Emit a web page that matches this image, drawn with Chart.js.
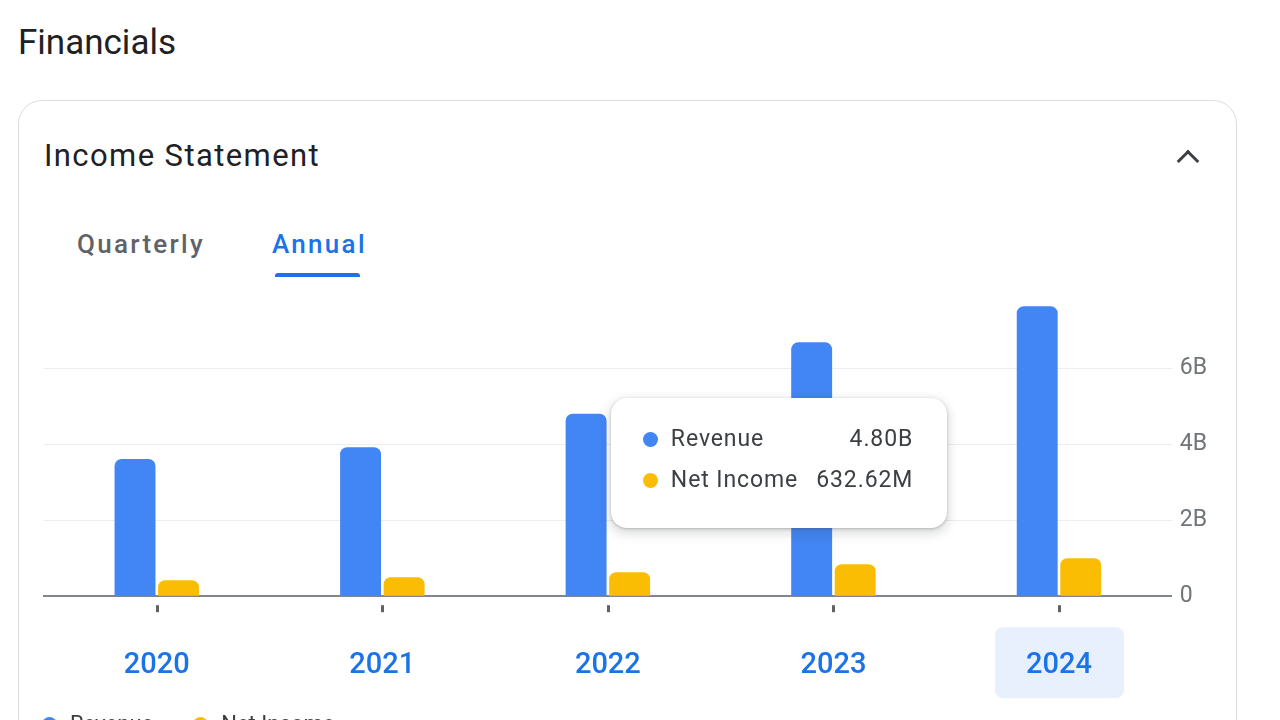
<!DOCTYPE html>
<html>
<head>
<meta charset="utf-8">
<script src="https://cdn.jsdelivr.net/npm/chart.js@4.4.1/dist/chart.umd.min.js"></script>
<style>
  body { margin: 0; width: 1280px; height: 720px; overflow: hidden; background: #fff; font-family: Roboto, "Noto Sans", sans-serif; position: relative; }
  .title { position: absolute; left: 18px; top: 22px; font-size: 35px; color: #202124; }
  .card { position: absolute; left: 18px; top: 100px; width: 1219px; height: 700px; border: 1px solid #dadce0; border-radius: 24px; box-sizing: border-box; }
  .cardTitle { position: absolute; left: 44px; top: 137px; font-size: 31px; letter-spacing: 1.4px; color: #202124; }
  .chev { position: absolute; border-left: 3px solid #3c4043; border-top: 3px solid #3c4043; transform: rotate(45deg); box-sizing: border-box; width: 16px; height: 16px; left: 1180px; top: 153px; }
  .tab { position: absolute; top: 229px; font-size: 26px; font-weight: 500; letter-spacing: 2.3px; }
  .tab.q { left: 77px; color: #5f6368; }
  .tab.a { left: 272px; color: #1a73e8; }
  .underline { position: absolute; left: 275px; top: 273px; width: 85px; height: 4px; background: #1a73e8; border-radius: 3px 3px 0 0; }
  #wrap { position: absolute; left: 30px; top: 278px; }
  .tip { position: absolute; background: #fff; border-radius: 16px; box-shadow: 0 1px 3px rgba(60,64,67,.3), 0 4px 10px 3px rgba(60,64,67,.15); padding: 20px 34px 28px 32px; font-size: 23px; letter-spacing: 0.9px; color: #3c4043; }
  .tip table { border-collapse: collapse; }
  .tip td { padding: 4px 0; height: 33px; }
  .tip td.v { text-align: right; padding-left: 18px; }
  .dot { display: inline-block; width: 15px; height: 15px; border-radius: 50%; margin-right: 13px; vertical-align: -1px; }
  .legend { position: absolute; left: 42px; top: 711px; font-size: 22px; color: #3c4043; }
  .legend span.item { margin-right: 40px; }
</style>
</head>
<body>
<div class="title">Financials</div>
<div class="card"></div>
<div class="cardTitle">Income Statement</div>
<div class="chev"></div>
<div class="tab q">Quarterly</div>
<div class="tab a">Annual</div>
<div class="underline"></div>
<div id="wrap"><canvas id="chartIncome" width="1200" height="476"></canvas></div>
<div id="tip" class="tip"></div>
<div class="legend" id="legend"></div>
<script>
var anos = ['2020', '2021', '2022', '2023', '2024'];
var receita = [3.61e9, 3.92e9, 4.80e9, 6.68e9, 7.63e9];
var lucroLiquido = [0.42e9, 0.50e9, 632.62e6, 0.84e9, 1.00e9];
var yTicks = [0, 2e9, 4e9, 6e9];
var yTickLabels = ['0', '2B', '4B', '6B'];
var nomesSeries = ['Revenue', 'Net Income'];
var cores = ['#4285f4', '#fbbc04'];
var anoSelecionado = 4;
var pontoAtivo = 2;

function formatar(v) {
  if (v >= 1e9) return (v / 1e9).toFixed(2) + 'B';
  return (v / 1e6).toFixed(2) + 'M';
}

// fundo azul claro atras do ano selecionado + marquinhas do eixo x
var extrasEixo = {
  id: 'extrasEixo',
  beforeDraw: function(chart) {
    var ctx = chart.ctx, x = chart.scales.x, area = chart.chartArea;
    var cx = x.getPixelForValue(anoSelecionado);
    ctx.save();
    ctx.fillStyle = '#e8f0fe';
    ctx.beginPath();
    ctx.roundRect(cx - 64, area.bottom + 31, 129, 71, 8);
    ctx.fill();
    ctx.restore();
  },
  afterDraw: function(chart) {
    var ctx = chart.ctx, x = chart.scales.x, area = chart.chartArea;
    ctx.save();
    ctx.fillStyle = '#5f6368';
    anos.forEach(function(a, i) {
      var px = Math.round(x.getPixelForValue(i));
      ctx.fillRect(px - 1, area.bottom + 9, 3, 7);
    });
    ctx.restore();
  }
};

var ctxIncome = document.getElementById('chartIncome').getContext('2d');
var chart = new Chart(ctxIncome, {
  type: 'bar',
  data: {
    labels: anos,
    datasets: [
      {
        label: nomesSeries[0],
        data: receita,
        backgroundColor: cores[0],
        borderRadius: 7,
        categoryPercentage: 0.386,
        barPercentage: 0.94
      },
      {
        label: nomesSeries[1],
        data: lucroLiquido,
        backgroundColor: cores[1],
        borderRadius: 7,
        categoryPercentage: 0.386,
        barPercentage: 0.94
      }
    ]
  },
  plugins: [extrasEixo],
  options: {
    responsive: false,
    animation: false,
    events: [],
    layout: { padding: { left: 14, top: 10, right: 15, bottom: 19 } },
    plugins: {
      legend: { display: false },
      tooltip: { enabled: false }
    },
    scales: {
      x: {
        grid: { display: false, drawTicks: false },
        border: { color: '#80868b', width: 2 },
        ticks: {
          padding: 52,
          color: '#1a73e8',
          font: { family: 'Roboto', size: 29, weight: '500' }
        }
      },
      y: {
        position: 'right',
        min: 0,
        max: 7.8e9,
        border: { display: false },
        grid: {
          drawTicks: false,
          color: function(c) { return c.tick && c.tick.value === 0 ? 'rgba(0,0,0,0)' : '#ebedef'; },
          lineWidth: 1
        },
        afterBuildTicks: function(axis) {
          axis.ticks = yTicks.map(function(v) { return { value: v }; });
        },
        ticks: {
          padding: 8,
          color: '#70757a',
          font: { family: 'Roboto', size: 23 },
          callback: function(v) { return yTickLabels[yTicks.indexOf(v)]; }
        }
      }
    }
  }
});

// tooltip fixo no ano 2022
(function() {
  var tip = document.getElementById('tip');
  var valores = [receita[pontoAtivo], lucroLiquido[pontoAtivo]];
  var html = '<table>';
  nomesSeries.forEach(function(n, i) {
    html += '<tr><td><span class="dot" style="background:' + cores[i] + '"></span>' + n + '</td><td class="v">' + formatar(valores[i]) + '</td></tr>';
  });
  html += '</table>';
  tip.innerHTML = html;
  var wrap = document.getElementById('wrap');
  var px = chart.scales.x.getPixelForValue(pontoAtivo);
  var py = chart.scales.y.getPixelForValue(receita[pontoAtivo]);
  tip.style.left = (wrap.offsetLeft + px + 3) + 'px';
  tip.style.top = (wrap.offsetTop + py - 16) + 'px';

  var leg = document.getElementById('legend');
  leg.innerHTML = nomesSeries.map(function(n, i) {
    return '<span class="item"><span class="dot" style="background:' + cores[i] + '"></span>' + n + '</span>';
  }).join('');
})();
</script>
</body>
</html>
